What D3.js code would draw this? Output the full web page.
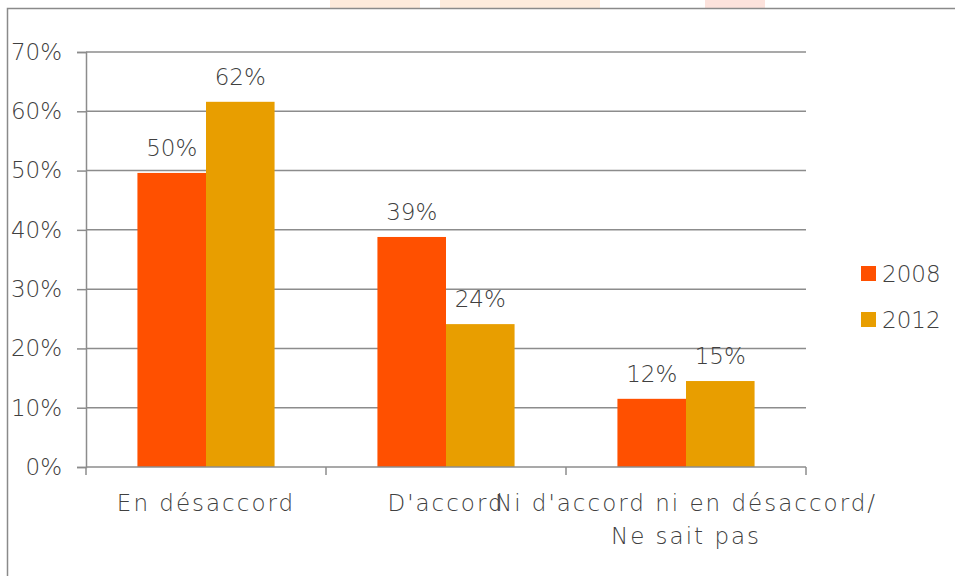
<!DOCTYPE html>
<html lang="en">
<head>
  <meta charset="UTF-8">
  <title>En désaccord / D'accord 2008-2012</title>
  <script src="https://d3js.org/d3.v7.min.js"></script>
  <style>
    body { margin: 0; background: #fff; }
    svg { display: block; font-family: "DejaVu Sans", sans-serif; font-weight: 200; }
    .cat { letter-spacing: 2px; }
  </style>
</head>
<body>
  <div id="chart"></div>
  <script>
    // chart data
    const categories = ["En désaccord", "D'accord", "Ni d'accord ni en désaccord/\nNe sait pas"];
    const seriesNames = ["2008", "2012"];
    const values2008 = [49.6, 38.8, 11.5];
    const values2012 = [61.6, 24.1, 14.5];
    const yTicks = [0, 10, 20, 30, 40, 50, 60, 70];
    const colors = ["#ff5000", "#e89e00"];

    const width = 955, height = 576;
    const margin = { left: 86, right: 149, top: 52, bottom: 109 };
    const fontSize = 23;

    const svg = d3.select("#chart").append("svg")
      .attr("width", width)
      .attr("height", height);

    // faint watermark blobs above the frame
    svg.append("g").selectAll("rect")
      .data([[330, 90, "#fdeadb"], [440, 160, "#fdebdc"], [705, 60, "#fce2dc"]])
      .join("rect")
      .attr("x", d => d[0]).attr("y", 0)
      .attr("width", d => d[1]).attr("height", 8)
      .attr("fill", d => d[2]);

    // frame border (top + left)
    svg.append("path")
      .attr("d", `M7.5,${height} V8.5 H${width}`)
      .attr("fill", "none")
      .attr("stroke", "#8a8a8a")
      .attr("stroke-width", 1.5);

    const x = d3.scaleBand()
      .domain(categories)
      .range([margin.left, width - margin.right]);

    // Excel style: gap width 75% -> outer padding 0.75 bar on each side
    const x1 = d3.scaleBand()
      .domain(seriesNames)
      .range([0, x.bandwidth()])
      .paddingOuter(0.75)
      .paddingInner(0);

    const y = d3.scaleLinear()
      .domain([0, 70])
      .range([height - margin.bottom, margin.top]);

    // gridlines
    svg.append("g")
      .selectAll("line")
      .data(yTicks.slice(1))
      .join("line")
      .attr("x1", margin.left)
      .attr("x2", width - margin.right)
      .attr("y1", d => y(d))
      .attr("y2", d => y(d))
      .attr("stroke", "#8c8c8c")
      .attr("stroke-width", 1.5);

    // bars
    const rows = categories.map((c, i) => ({ cat: c, vals: [values2008[i], values2012[i]] }));

    const groups = svg.append("g")
      .selectAll("g")
      .data(rows)
      .join("g")
      .attr("transform", d => `translate(${x(d.cat)},0)`);

    groups.selectAll("rect")
      .data(d => d.vals.map((v, j) => ({ key: seriesNames[j], v: v, j: j })))
      .join("rect")
      .attr("x", d => x1(d.key))
      .attr("width", x1.bandwidth())
      .attr("y", d => y(d.v))
      .attr("height", d => y(0) - y(d.v))
      .attr("fill", d => colors[d.j]);

    // data labels
    groups.selectAll("text")
      .data(d => d.vals.map((v, j) => ({ key: seriesNames[j], v: v })))
      .join("text")
      .attr("x", d => x1(d.key) + x1.bandwidth() / 2)
      .attr("y", d => y(d.v) - 17)
      .attr("text-anchor", "middle")
      .attr("font-size", fontSize)
      .attr("fill", "#404040")
      .text(d => Math.round(d.v) + "%");

    // y axis
    const yAxis = svg.append("g")
      .attr("transform", `translate(${margin.left},0)`)
      .call(d3.axisLeft(y).tickValues(yTicks).tickFormat(d => d + "%").tickSize(9).tickPadding(15));
    yAxis.select(".domain").attr("stroke", "#8c8c8c").attr("stroke-width", 1.5);
    yAxis.selectAll(".tick line").attr("stroke", "#8c8c8c").attr("stroke-width", 1.5);
    yAxis.selectAll(".tick text")
      .attr("font-size", fontSize)
      .attr("font-family", "\"DejaVu Sans\", sans-serif")
      .attr("fill", "#404040");

    // x axis with ticks at band boundaries
    const xAxisG = svg.append("g");
    xAxisG.append("line")
      .attr("x1", margin.left).attr("x2", width - margin.right)
      .attr("y1", y(0)).attr("y2", y(0))
      .attr("stroke", "#8c8c8c").attr("stroke-width", 1.5);
    const edges = [margin.left].concat(categories.map(c => x(c) + x.bandwidth()));
    xAxisG.selectAll(".xt")
      .data(edges)
      .join("line")
      .attr("x1", d => d).attr("x2", d => d)
      .attr("y1", y(0)).attr("y2", y(0) + 8)
      .attr("stroke", "#8c8c8c").attr("stroke-width", 1.5);

    const catText = xAxisG.selectAll(".cat")
      .data(categories)
      .join("text")
      .attr("class", "cat")
      .attr("text-anchor", "middle")
      .attr("font-size", fontSize)
      .attr("fill", "#404040");
    catText.selectAll("tspan")
      .data(d => d.split("\n").map(s => ({ s: s, c: d })))
      .join("tspan")
      .attr("x", d => x(d.c) + x.bandwidth() / 2)
      .attr("y", (d, i) => 511 + i * 33)
      .text(d => d.s);

    // legend
    const legend = svg.append("g")
      .selectAll("g")
      .data(seriesNames)
      .join("g")
      .attr("transform", (d, i) => `translate(861,${266 + i * 46})`);
    legend.append("rect")
      .attr("width", 15).attr("height", 15)
      .attr("fill", (d, i) => colors[i]);
    legend.append("text")
      .attr("x", 21).attr("y", 16)
      .attr("font-size", fontSize)
      .attr("fill", "#404040")
      .text(d => d);
  </script>
</body>
</html>
